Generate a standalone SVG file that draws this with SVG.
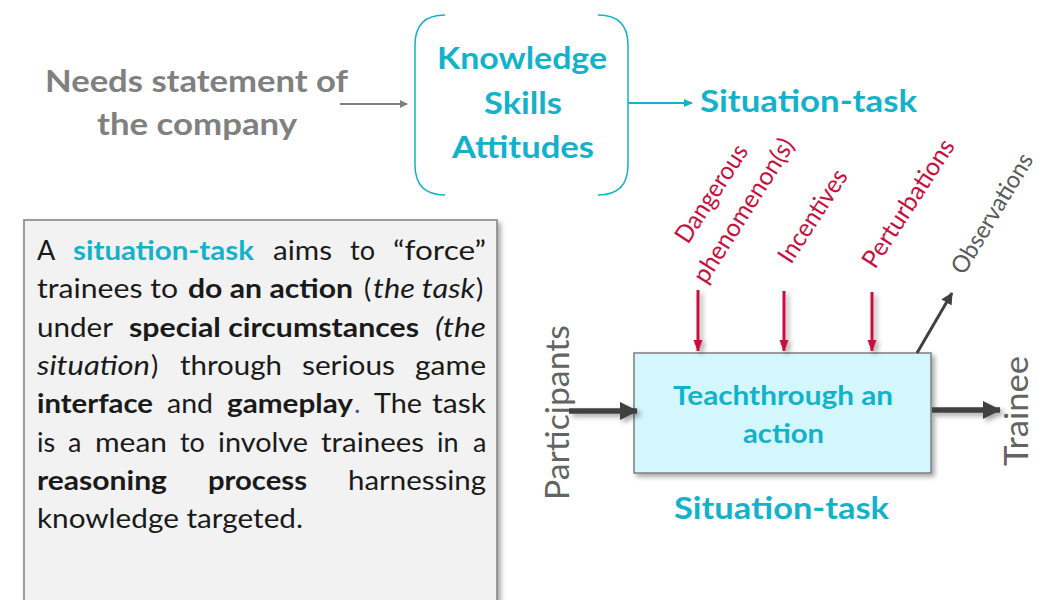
<svg xmlns="http://www.w3.org/2000/svg" width="1039" height="600" viewBox="0 0 1039 600">
  <defs>
    <style>
      .head { font-family: Lato, "Open Sans", sans-serif; font-weight: bold; font-size: 30px; }
      .teal { fill: #14B2CA; }
      .grey { fill: #808080; }
      .para { font-family: Lato, "Open Sans", sans-serif; font-size: 27px; fill: #1a1a1a; }
      .b { font-weight: bold; }
      .i { font-style: italic; }
      .red { font-family: Lato, "Open Sans", sans-serif; font-size: 25px; fill: #C8103F; }
      .side { font-family: Lato, "Open Sans", sans-serif; font-size: 33px; fill: #636363; }
    </style>
    <filter id="shadow" x="-20%" y="-20%" width="150%" height="150%">
      <feDropShadow dx="3" dy="3" stdDeviation="2.5" flood-color="#000" flood-opacity="0.35"/>
    </filter>
    <marker id="mGrey" markerWidth="8" markerHeight="8" refX="7" refY="4" orient="auto" markerUnits="userSpaceOnUse">
      <path d="M0,0 L8,4 L0,8 Z" fill="#7F7F7F"/>
    </marker>
    <marker id="mTeal" markerWidth="9" markerHeight="8" refX="8" refY="4" orient="auto" markerUnits="userSpaceOnUse">
      <path d="M0,0 L9,4 L0,8 Z" fill="#14B2CA"/>
    </marker>
    <marker id="mRed" markerWidth="9" markerHeight="12" refX="11" refY="4.5" orient="auto" markerUnits="userSpaceOnUse">
      <path d="M0,0 L12,4.5 L0,9 Z" fill="#C8103F"/>
    </marker>
    <marker id="mDark" markerWidth="18" markerHeight="18" refX="17" refY="9" orient="auto" markerUnits="userSpaceOnUse">
      <path d="M0,0 L18,9 L0,18 Z" fill="#404040"/>
    </marker>
    <marker id="mDarkSmall" markerWidth="12" markerHeight="12" refX="11" refY="6" orient="auto" markerUnits="userSpaceOnUse">
      <path d="M0,0 L12,6 L0,12 Z" fill="#404040"/>
    </marker>
  </defs>

  <rect width="1039" height="600" fill="#ffffff"/>

  <!-- source of the needs -->
  <g id="needs">
    <text class="head grey" x="45" y="92" textLength="303" lengthAdjust="spacingAndGlyphs">Needs statement of</text>
    <text class="head grey" x="97" y="135" textLength="200" lengthAdjust="spacingAndGlyphs">the company</text>
  </g>

  <!-- knowledge / skills / attitudes in braces -->
  <g id="ksa">
    <path d="M445,15 Q415,15 415,45 L415,165 Q415,195 445,195" fill="none" stroke="#14B2CA" stroke-width="1.5"/>
    <path d="M598,15 Q628,15 628,45 L628,165 Q628,195 598,195" fill="none" stroke="#14B2CA" stroke-width="1.5"/>
    <text class="head teal" x="437" y="69" textLength="170" lengthAdjust="spacingAndGlyphs">Knowledge</text>
    <text class="head teal" x="484" y="114" textLength="78" lengthAdjust="spacingAndGlyphs">Skills</text>
    <text class="head teal" x="452" y="158" textLength="142" lengthAdjust="spacingAndGlyphs">Attitudes</text>
  </g>

  <g id="situation-task-title">
    <text class="head teal" x="700" y="112" textLength="217" lengthAdjust="spacingAndGlyphs">Situation-task</text>
  </g>

  <!-- explanatory paragraph -->
  <g id="definition">
    <rect x="24" y="220" width="473" height="400" fill="#F2F2F2" stroke="#7F7F7F" stroke-width="1.5" filter="url(#shadow)"/>
    <g class="para">
      <text y="260"><tspan x="37">A</tspan><tspan x="73" class="b teal" textLength="181" lengthAdjust="spacingAndGlyphs">situation-task</tspan><tspan x="273" textLength="59" lengthAdjust="spacingAndGlyphs">aims</tspan><tspan x="350" textLength="25" lengthAdjust="spacingAndGlyphs">to</tspan><tspan x="393" textLength="93" lengthAdjust="spacingAndGlyphs">“force”</tspan></text>
      <text y="298"><tspan x="37" textLength="141" lengthAdjust="spacingAndGlyphs">trainees to</tspan><tspan x="188" class="b" textLength="165" lengthAdjust="spacingAndGlyphs">do an action</tspan><tspan x="364">(</tspan><tspan x="373" class="i" textLength="102" lengthAdjust="spacingAndGlyphs">the task</tspan><tspan x="476">)</tspan></text>
      <text y="337"><tspan x="37" textLength="76" lengthAdjust="spacingAndGlyphs">under</tspan><tspan x="129" class="b" textLength="290" lengthAdjust="spacingAndGlyphs">special circumstances</tspan><tspan x="435" class="i" textLength="51" lengthAdjust="spacingAndGlyphs">(the</tspan></text>
      <text y="375"><tspan x="37" class="i" textLength="113" lengthAdjust="spacingAndGlyphs">situation</tspan><tspan x="151">)</tspan><tspan x="180" textLength="102" lengthAdjust="spacingAndGlyphs">through</tspan><tspan x="302" textLength="93" lengthAdjust="spacingAndGlyphs">serious</tspan><tspan x="415" textLength="71" lengthAdjust="spacingAndGlyphs">game</tspan></text>
      <text y="413"><tspan x="37" class="b" textLength="116" lengthAdjust="spacingAndGlyphs">interface</tspan><tspan x="167" textLength="46" lengthAdjust="spacingAndGlyphs">and</tspan><tspan x="227" class="b" textLength="126" lengthAdjust="spacingAndGlyphs">gameplay</tspan><tspan x="354" fill="#3B5A9A">.</tspan><tspan x="374" textLength="48" lengthAdjust="spacingAndGlyphs">The</tspan><tspan x="432" textLength="54" lengthAdjust="spacingAndGlyphs">task</tspan></text>
      <text y="452"><tspan x="37">is</tspan><tspan x="68">a</tspan><tspan x="95" textLength="72" lengthAdjust="spacingAndGlyphs">mean</tspan><tspan x="180">to</tspan><tspan x="218" textLength="90" lengthAdjust="spacingAndGlyphs">involve</tspan><tspan x="321" textLength="103" lengthAdjust="spacingAndGlyphs">trainees</tspan><tspan x="437">in</tspan><tspan x="473">a</tspan></text>
      <text y="490"><tspan x="37" class="b" textLength="130" lengthAdjust="spacingAndGlyphs">reasoning</tspan><tspan x="208" class="b" textLength="99" lengthAdjust="spacingAndGlyphs">process</tspan><tspan x="348" textLength="138" lengthAdjust="spacingAndGlyphs">harnessing</tspan></text>
      <text y="528"><tspan x="37" textLength="266" lengthAdjust="spacingAndGlyphs">knowledge targeted.</tspan></text>
    </g>
  </g>

  <!-- central activity box -->
  <g id="activity">
    <rect x="634" y="353" width="297" height="120" fill="#D3F7FC" stroke="#7F7F7F" stroke-width="1.5" filter="url(#shadow)"/>
    <text class="teal" font-family="Lato, 'Open Sans', sans-serif" font-weight="bold" font-size="27" x="673" y="405" textLength="220" lengthAdjust="spacingAndGlyphs">Teachthrough an</text>
    <text class="teal" font-family="Lato, 'Open Sans', sans-serif" font-weight="bold" font-size="27" x="743" y="443" textLength="81" lengthAdjust="spacingAndGlyphs">action</text>
  </g>

  <g id="activity-caption">
    <text class="head teal" x="674" y="519" textLength="215" lengthAdjust="spacingAndGlyphs">Situation-task</text>
  </g>

  <!-- controls above the box -->
  <g id="controls">
    <text class="red" transform="translate(688,245) rotate(-57)" textLength="112" lengthAdjust="spacingAndGlyphs">Dangerous</text>
    <text class="red" transform="translate(706,285) rotate(-57.5)" textLength="166" lengthAdjust="spacingAndGlyphs">phenomenon(s)</text>
    <text class="red" transform="translate(791,265) rotate(-57)" textLength="106" lengthAdjust="spacingAndGlyphs">Incentives</text>
    <text class="red" transform="translate(875,270) rotate(-57)" textLength="148" lengthAdjust="spacingAndGlyphs">Perturbations</text>
  </g>

  <g id="observations">
    <text font-family="Lato, 'Open Sans', sans-serif" font-size="24" fill="#5A5A5A" transform="translate(964,276) rotate(-59)" textLength="136" lengthAdjust="spacingAndGlyphs">Observations</text>
  </g>

  <g id="participants">
    <text class="side" transform="translate(569,500) rotate(-90)" textLength="175" lengthAdjust="spacingAndGlyphs">Participants</text>
  </g>

  <g id="trainee">
    <text class="side" transform="translate(1028,466) rotate(-90)" textLength="110" lengthAdjust="spacingAndGlyphs">Trainee</text>
  </g>

  <!-- connectors -->
  <g id="connectors" fill="none">
    <line x1="340" y1="104" x2="407" y2="104" stroke="#7F7F7F" stroke-width="2" marker-end="url(#mGrey)"/>
    <line x1="628" y1="103" x2="692" y2="103" stroke="#14B2CA" stroke-width="2" marker-end="url(#mTeal)"/>
    <g filter="url(#shadow)">
      <line x1="698" y1="290" x2="698" y2="351" stroke="#C8103F" stroke-width="3" marker-end="url(#mRed)"/>
      <line x1="784" y1="291" x2="784" y2="351" stroke="#C8103F" stroke-width="3" marker-end="url(#mRed)"/>
      <line x1="872" y1="292" x2="872" y2="351" stroke="#C8103F" stroke-width="3" marker-end="url(#mRed)"/>
      <line x1="569" y1="411" x2="637" y2="411" stroke="#404040" stroke-width="5.5" marker-end="url(#mDark)"/>
      <line x1="932" y1="410" x2="1000" y2="410" stroke="#404040" stroke-width="5.5" marker-end="url(#mDark)"/>
    </g>
    <line x1="917" y1="353" x2="952" y2="293" stroke="#404040" stroke-width="3" marker-end="url(#mDarkSmall)"/>
  </g>
</svg>
